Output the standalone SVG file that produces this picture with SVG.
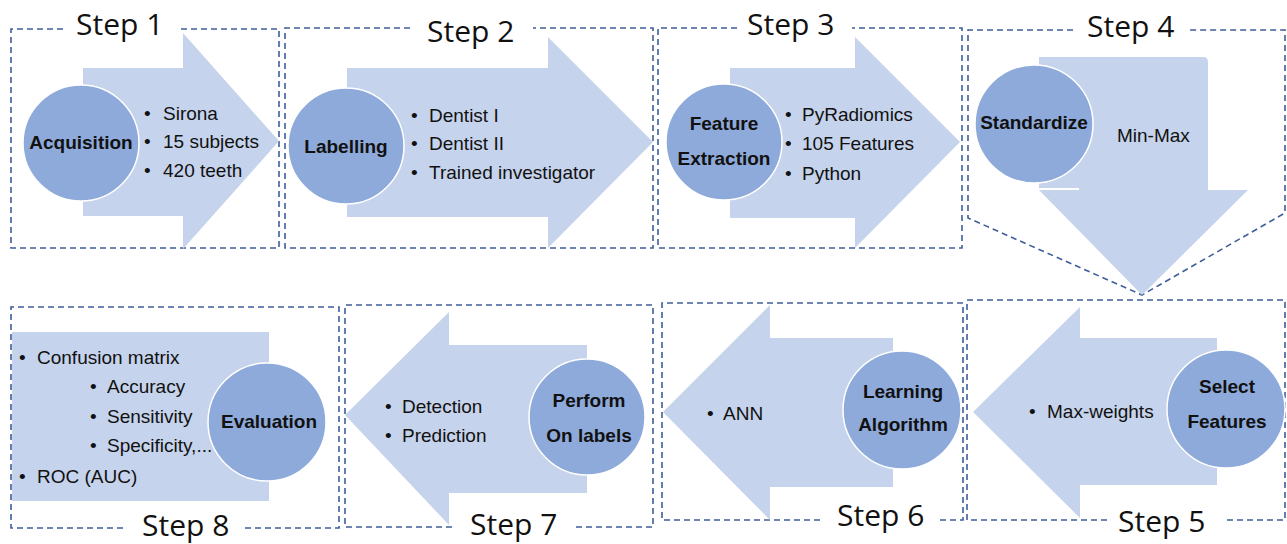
<svg xmlns="http://www.w3.org/2000/svg" width="1287" height="544" viewBox="0 0 1287 544">
<style>
.box{fill:none;stroke:#3f5e9c;stroke-width:1.6;stroke-dasharray:6 4}
.arr{fill:#c6d3ec}
.cir{fill:#8eaadb;stroke:#ffffff;stroke-width:1.5}
.step{font-family:"Open Sans","Noto Sans",sans-serif;font-size:30px;fill:#111}
.ttl{font-family:"Liberation Sans",Arial,sans-serif;font-size:19px;font-weight:bold;fill:#111;text-anchor:middle}
.bl{font-family:"Liberation Sans",Arial,sans-serif;font-size:19px;fill:#111}
</style>
<rect width="1287" height="544" fill="#ffffff"/>
<g id="connectors">
<path class="box" d="M63,29 H11 V248 H279 V29 H180"/>
<path class="box" d="M410,28 H285 V248 H653 V28 H533"/>
<path class="box" d="M737,28 H658 V248 H962 V28 H852"/>
<path class="box" d="M1073,30 H968 V218 L1142,295 L1285,213 V30 H1190"/>
<path class="box" d="M1107,520 H967 V300 H1285 V520 H1227"/>
<path class="box" d="M820,520 H662 V303 H963 V520 H937"/>
<path class="box" d="M452,527 H345 V305 H653 V527 H572"/>
<path class="box" d="M123,528 H11 V307 H339 V528 H245"/>
</g>
<g id="step1">
<text class="step" x="76" y="35">Step 1</text>
<polygon class="arr" points="83,68 183,68 183,33 279,141 183,249 183,216 83,216"/>
<circle class="cir" cx="81" cy="143" r="58"/>
<text class="ttl" x="81" y="149">Acquisition</text>
<text class="bl"><tspan x="144" y="120">•</tspan><tspan x="163" y="120">Sirona</tspan></text>
<text class="bl"><tspan x="144" y="148">•</tspan><tspan x="163" y="148">15 subjects</tspan></text>
<text class="bl"><tspan x="144" y="177">•</tspan><tspan x="163" y="177">420 teeth</tspan></text>
</g>
<g id="step2">
<text class="step" x="427" y="42">Step 2</text>
<polygon class="arr" points="347,68 548,68 548,37 653,142 548,248 548,217 347,217"/>
<circle class="cir" cx="346" cy="146" r="58"/>
<text class="ttl" x="346" y="153">Labelling</text>
<text class="bl"><tspan x="411" y="122">•</tspan><tspan x="429" y="122">Dentist I</tspan></text>
<text class="bl"><tspan x="411" y="150">•</tspan><tspan x="429" y="150">Dentist II</tspan></text>
<text class="bl"><tspan x="411" y="179">•</tspan><tspan x="429" y="179">Trained investigator</tspan></text>
</g>
<g id="step3">
<text class="step" x="747" y="35">Step 3</text>
<polygon class="arr" points="730,68 855,68 855,37 960,142 855,248 855,218 730,218"/>
<circle class="cir" cx="724" cy="142" r="58"/>
<text class="ttl" x="724" y="130">Feature</text>
<text class="ttl" x="724" y="165">Extraction</text>
<text class="bl"><tspan x="785" y="121">•</tspan><tspan x="802" y="121">PyRadiomics</tspan></text>
<text class="bl"><tspan x="785" y="150">•</tspan><tspan x="802" y="150">105 Features</tspan></text>
<text class="bl"><tspan x="785" y="180">•</tspan><tspan x="802" y="180">Python</tspan></text>
</g>
<g id="step4">
<text class="step" x="1087" y="37">Step 4</text>
<path class="arr" d="M1039,57 H1203 Q1208,57 1208,62 V190 H1248 L1142,295 L1039,190 Z"/>
<line x1="1039" y1="189" x2="1079" y2="189" stroke="#ffffff" stroke-width="2"/>
<circle class="cir" cx="1034" cy="124" r="59"/>
<text class="ttl" x="1034" y="129">Standardize</text>
<text class="bl" x="1117" y="142">Min-Max</text>
</g>
<g id="step5">
<text class="step" x="1118" y="532">Step 5</text>
<polygon class="arr" points="1217,338 1080,338 1080,307 973,412 1080,518 1080,485 1217,485"/>
<circle class="cir" cx="1226" cy="409" r="59"/>
<text class="ttl" x="1227" y="393">Select</text>
<text class="ttl" x="1227" y="428">Features</text>
<text class="bl"><tspan x="1029" y="418">•</tspan><tspan x="1047" y="418">Max-weights</tspan></text>
</g>
<g id="step6">
<text class="step" x="837" y="526">Step 6</text>
<polygon class="arr" points="893,338 770,338 770,305 663,412 770,520 770,487 893,487"/>
<circle class="cir" cx="902" cy="410" r="59"/>
<text class="ttl" x="903" y="398">Learning</text>
<text class="ttl" x="903" y="431">Algorithm</text>
<text class="bl"><tspan x="707" y="420">•</tspan><tspan x="723" y="420">ANN</tspan></text>
</g>
<g id="step7">
<text class="step" x="470" y="535">Step 7</text>
<polygon class="arr" points="587,345 449,345 449,312 345,415 449,525 449,493 587,493"/>
<circle class="cir" cx="587" cy="417" r="58"/>
<text class="ttl" x="589" y="407">Perform</text>
<text class="ttl" x="589" y="442">On labels</text>
<text class="bl"><tspan x="385" y="413">•</tspan><tspan x="402" y="413">Detection</tspan></text>
<text class="bl"><tspan x="385" y="442">•</tspan><tspan x="402" y="442">Prediction</tspan></text>
</g>
<g id="step8">
<text class="step" x="142" y="536">Step 8</text>
<rect class="arr" x="12" y="332" width="257" height="169"/>
<circle class="cir" cx="267" cy="422" r="59"/>
<text class="ttl" x="269" y="428">Evaluation</text>
<text class="bl"><tspan x="19" y="364">•</tspan><tspan x="37" y="364">Confusion matrix</tspan></text>
<text class="bl"><tspan x="90" y="393">•</tspan><tspan x="107" y="393">Accuracy</tspan></text>
<text class="bl"><tspan x="90" y="423">•</tspan><tspan x="107" y="423">Sensitivity</tspan></text>
<text class="bl"><tspan x="90" y="452">•</tspan><tspan x="107" y="452">Specificity,...</tspan></text>
<text class="bl"><tspan x="19" y="483">•</tspan><tspan x="37" y="483">ROC (AUC)</tspan></text>
</g>
</svg>
